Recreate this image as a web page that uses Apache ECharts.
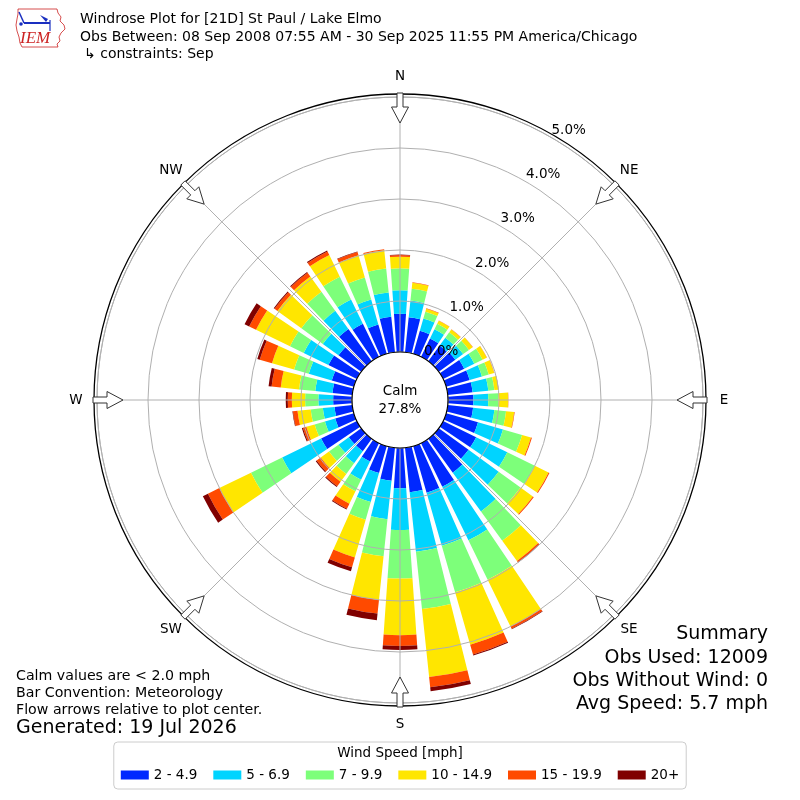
<!DOCTYPE html>
<html><head><meta charset="utf-8">
<script src="https://cdn.jsdelivr.net/npm/echarts@6/dist/echarts.min.js"></script>
<style>html,body{margin:0;padding:0;background:#fff}#c{width:800px;height:800px}</style>
</head><body><div id="c"></div>
<script>
// ---------------- data ----------------
const directions = ['0','10','20','30','40','50','60','70','80','90','100','110','120','130','140','150','160','170',
                    '180','190','200','210','220','230','240','250','260','270','280','290','300','310','320','330','340','350'];
const speedBins = ['2 - 4.9','5 - 6.9','7 - 9.9','10 - 14.9','15 - 19.9','20+'];
const binColors = ['#0028ff','#00d4ff','#7dff7a','#ffe600','#ff4a00','#800000'];
// frequency (%) per direction for each speed bin
const spd2to5   = [0.75,0.69,0.47,0.40,0.38,0.40,0.46,0.48,0.49,0.50,0.50,0.65,0.72,0.72,0.82,0.95,0.95,0.88,0.79,0.65,0.55,0.40,0.30,0.30,0.78,0.38,0.35,0.37,0.39,0.45,0.62,0.55,0.78,0.72,0.60,0.70];
const spd5to7   = [0.46,0.33,0.25,0.20,0.19,0.19,0.22,0.25,0.31,0.29,0.42,0.51,0.68,0.73,0.94,1.17,1.08,1.17,0.82,0.76,0.59,0.40,0.29,0.25,0.85,0.21,0.23,0.29,0.34,0.47,0.54,0.38,0.44,0.53,0.51,0.48];
const spd7to10  = [0.43,0.23,0.14,0.12,0.13,0.14,0.18,0.14,0.12,0.20,0.23,0.39,0.60,0.53,0.71,0.86,0.95,1.13,0.95,0.73,0.36,0.25,0.26,0.23,0.68,0.21,0.24,0.26,0.32,0.30,0.30,0.52,0.46,0.50,0.45,0.47];
const spd10to15 = [0.23,0.12,0.06,0.07,0.07,0.09,0.09,0.11,0.08,0.19,0.16,0.18,0.30,0.30,0.49,1.02,1.07,1.34,1.11,0.86,0.77,0.27,0.19,0.20,0.69,0.17,0.26,0.26,0.36,0.45,0.74,0.58,0.37,0.47,0.45,0.36];
const spd15to20 = [0.03,0.01,0.01,0.005,0.005,0.005,0.005,0.005,0.005,0.005,0.01,0.02,0.02,0.02,0.03,0.05,0.20,0.20,0.21,0.27,0.20,0.11,0.11,0.10,0.25,0.07,0.09,0.08,0.18,0.25,0.15,0.07,0.09,0.08,0.07,0.02];
const spd20up   = [0.01,0,0,0,0,0,0,0,0,0,0,0,0,0,0.01,0.01,0.02,0.08,0.08,0.13,0.08,0.02,0.02,0.02,0.11,0.02,0.01,0.04,0.06,0.05,0.10,0.02,0.02,0.02,0.01,0];
const radiusMax = 5;          // percent
const radiusStep = 1;
const compassLabels = ['N','NE','E','SE','S','SW','W','NW'];
const calmPct = 27.8;
const titleLines = ['Windrose Plot for [21D] St Paul / Lake Elmo',
  'Obs Between: 08 Sep 2008 07:55 AM - 30 Sep 2025 11:55 PM America/Chicago',
  '\u21b3 constraints: Sep'];
const noteLines = ['Calm values are < 2.0 mph','Bar Convention: Meteorology','Flow arrows relative to plot center.'];
const generatedText = 'Generated: 19 Jul 2026';
const summaryLines = ['Summary','Obs Used: 12009','Obs Without Wind: 0','Avg Speed: 5.7 mph'];

// ---------------- layout ----------------
const FONT = 'DejaVu Sans';
const CX = 400, CY = 400, R0 = 48, R1 = 303, RF = 306, RLAB = 324;
const speedData = [spd2to5, spd5to7, spd7to10, spd10to15, spd15to20, spd20up];

const chart = echarts.init(document.getElementById('c'), null, {renderer:'canvas'});

function arrowPoints(deg){
  const t = deg*Math.PI/180;
  const ux = Math.sin(t), uy = -Math.cos(t), vx = Math.cos(t), vy = Math.sin(t);
  const pts = [[307,-3],[293,-3],[293,-8.5],[277,0],[293,8.5],[293,3],[307,3]];
  return pts.map(([r,w]) => [CX+ux*r+vx*w, CY+uy*r+vy*w]);
}

const graphics = [];
graphics.push({type:'circle', shape:{cx:CX, cy:CY, r:RF}, style:{fill:'none', stroke:'#000', lineWidth:1.3}, z:50, silent:true});
graphics.push({type:'circle', shape:{cx:CX, cy:CY, r:R0}, style:{fill:'#fff', stroke:'#000', lineWidth:1.2}, z:50, silent:true});
graphics.push({type:'text', x:CX, y:CY, style:{text:'Calm\n' + calmPct.toFixed(1) + '%', fill:'#000', font:'13.5px "DejaVu Sans"', align:'center', verticalAlign:'middle', lineHeight:18}, z:51, silent:true});
compassLabels.forEach((l,i) => {
  const t = i*45*Math.PI/180;
  graphics.push({type:'polygon', shape:{points:arrowPoints(i*45)}, style:{fill:'#fff', stroke:'#333', lineWidth:1}, z:60, silent:true});
  graphics.push({type:'text', x:CX + RLAB*Math.sin(t), y:CY - RLAB*Math.cos(t),
    style:{text:l, fill:'#000', font:'13.5px "DejaVu Sans"', align:'center', verticalAlign:'middle'}, z:60, silent:true});
});
// logo
graphics.push({type:'polygon', shape:{points:[[18,9],[57,9],[58,13],[61,17],[60,21],[64,25],[65,29],[61,33],[59,37],[60,41],[57,44],[58,47],[22,47],[20,43],[19,37],[17,31],[16,25],[17,19],[18,14]]},
  style:{fill:'none', stroke:'#cc2222', lineWidth:0.8}, silent:true});
graphics.push({type:'line', shape:{x1:24, y1:23, x2:50, y2:23}, style:{stroke:'#1a2fc0', lineWidth:2}, silent:true});
graphics.push({type:'polygon', shape:{points:[[40,15],[48,19],[46,22]]}, style:{fill:'#1a2fc0'}, silent:true});
graphics.push({type:'line', shape:{x1:19, y1:12, x2:24, y2:23}, style:{stroke:'#1a2fc0', lineWidth:1.5}, silent:true});
graphics.push({type:'circle', shape:{cx:21, cy:24, r:1.8}, style:{fill:'#1a2fc0'}, silent:true});
graphics.push({type:'line', shape:{x1:50, y1:20, x2:50, y2:31}, style:{stroke:'#1a2fc0', lineWidth:1.2}, silent:true});
graphics.push({type:'text', x:20, y:39, style:{text:'IEM', fill:'#cc2222', font:'italic 17px "Liberation Serif"', align:'left', verticalAlign:'middle'}, silent:true});

const txt = (text, pos, size) => Object.assign({text, padding:0, textStyle:{fontFamily:FONT, fontSize:size, fontWeight:'normal', color:'#000'}}, pos);
const titles = [
  txt(titleLines[0], {left:80, top:12}, 14),
  txt(titleLines[1], {left:80, top:30}, 14),
  txt(titleLines[2], {left:84, top:47}, 14),
  txt(noteLines[0], {left:16, top:669}, 14.2),
  txt(noteLines[1], {left:16, top:686}, 14.2),
  txt(noteLines[2], {left:16, top:703}, 14.2),
  txt(generatedText, {left:16, top:719}, 19),
  txt(summaryLines[0], {right:32, top:625}, 19),
  txt(summaryLines[1], {right:32, top:649}, 19),
  txt(summaryLines[2], {right:32, top:672}, 19),
  txt(summaryLines[3], {right:32, top:695}, 19),
  txt('Wind Speed [mph]', {left:'center', top:746}, 13.5)
];

const option = {
  animation:false,
  backgroundColor:'#fff',
  title: titles,
  legend: {
    data: speedBins, left:'center', bottom:11, orient:'horizontal', icon:'rect',
    itemWidth:28, itemHeight:9, itemGap:16, padding:[26,7,7,7],
    borderColor:'#cccccc', borderWidth:1, borderRadius:4, selectedMode:false,
    textStyle:{fontFamily:FONT, fontSize:13.5, color:'#000'}
  },
  polar: [
    {center:[CX,CY], radius:[R0,R1]},
    {center:[CX,CY], radius:[R0,R1]},
    {center:[CX,CY], radius:[R0,R1]}
  ],
  angleAxis: [
    {polarIndex:0, type:'category', data:directions, startAngle:95, clockwise:true,
     axisLine:{show:false}, axisTick:{show:false}, axisLabel:{show:false}, splitLine:{show:false}},
    {polarIndex:1, type:'value', min:0, max:360, interval:45, startAngle:90, clockwise:true, z:5,
     axisLine:{show:true, lineStyle:{color:'#b0b0b0', width:1}}, axisTick:{show:false},
     axisLabel:{show:false},
     splitLine:{show:true, lineStyle:{color:'#b0b0b0', width:1}}},
    {polarIndex:2, type:'value', min:0, max:360, startAngle:60, clockwise:true, show:false}
  ],
  radiusAxis: [
    {polarIndex:0, type:'value', min:0, max:radiusMax, show:false},
    {polarIndex:1, type:'value', min:0, max:radiusMax, interval:radiusStep, z:5,
     axisLine:{show:false}, axisTick:{show:false}, axisLabel:{show:false},
     splitLine:{show:true, lineStyle:{color:'#b0b0b0', width:1}}},
    {polarIndex:2, type:'value', min:0, max:radiusMax, interval:radiusStep, z:6,
     axisLine:{show:false}, axisTick:{show:false}, splitLine:{show:false},
     axisLabel:{show:true, margin:0, align:'left', verticalAlign:'bottom', fontFamily:FONT, fontSize:13.5, color:'#000',
       formatter: v => v.toFixed(1) + '%'}}
  ],
  series: speedData.map((arr, i) => ({
    type:'bar', name:speedBins[i], data:arr, coordinateSystem:'polar', polarIndex:0,
    stack:'wind', barCategoryGap:'20%', itemStyle:{color:binColors[i]}, z:2, silent:true
  })),
  graphic: {elements: graphics}
};
chart.setOption(option);
</script>
</body></html>
